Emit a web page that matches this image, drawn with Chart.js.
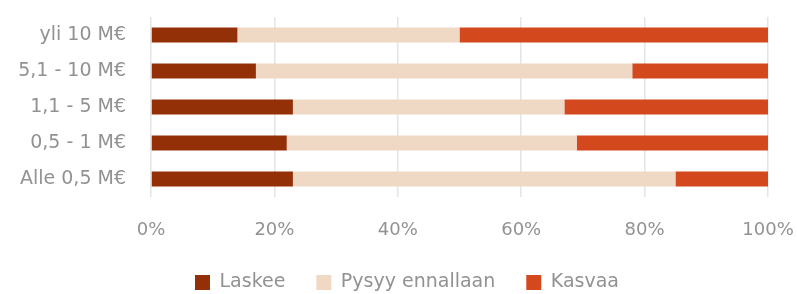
<!DOCTYPE html>
<html lang="fi">
<head>
<meta charset="utf-8">
<script src="https://cdn.jsdelivr.net/npm/chart.js@4/dist/chart.umd.min.js"></script>
<style>
  html, body { margin: 0; padding: 0; background: #fff; }
  .wrap { width: 797px; height: 294px; position: relative; }
</style>
</head>
<body>
<div class="wrap"><canvas id="chartRevenue"></canvas></div>
<script>
  var categories = ["yli 10 M€", "5,1 - 10 M€", "1,1 - 5 M€", "0,5 - 1 M€", "Alle 0,5 M€"];
  var laskee = [14, 17, 23, 22, 23];
  var pysyy = [36, 61, 44, 47, 62];
  var kasvaa = [50, 22, 33.5, 31, 15];
  var tickLabels = ["0%", "20%", "40%", "60%", "80%", "100%"];

  (function () {
    "use strict";

    var colors = {
      laskee: "#933008",
      pysyy: "#EFD9C5",
      kasvaa: "#D3481D",
      text: "#929292",
      grid: "#e4e4e4",
    };
    var family = "'DejaVu Sans', sans-serif";

    function bar(label, data, color) {
      return {
        label: label,
        data: data,
        backgroundColor: color,
        borderWidth: 0,
        barPercentage: 0.417,
        categoryPercentage: 1,
      };
    }

    new Chart(document.getElementById("chartRevenue"), {
      type: "bar",
      data: {
        labels: categories,
        datasets: [
          bar("Laskee", laskee, colors.laskee),
          bar("Pysyy ennallaan", pysyy, colors.pysyy),
          bar("Kasvaa", kasvaa, colors.kasvaa),
        ],
      },
      options: {
        indexAxis: "y",
        responsive: true,
        maintainAspectRatio: false,
        animation: false,
        // bottom is negative so the legend row sits low like the original
        layout: { padding: { top: 17, right: 0, left: 17, bottom: -8 } },
        plugins: {
          tooltip: { enabled: false },
          legend: {
            position: "bottom",
            labels: {
              color: colors.text,
              font: { family: family, size: 19 },
              boxWidth: 15,
              boxHeight: 15,
              padding: 31,
            },
          },
        },
        scales: {
          x: {
            stacked: true,
            min: 0,
            max: 100,
            grid: { color: colors.grid, drawTicks: false, lineWidth: 1.5 },
            border: { display: false },
            ticks: {
              stepSize: 20,
              color: colors.text,
              font: { family: family, size: 18 },
              padding: 23,
              callback: function (v, i) { return tickLabels[i]; },
            },
            afterFit: function (s) {
              s.paddingLeft = 0;
              s.paddingRight = 29;
              s.height = 45;
            },
          },
          y: {
            stacked: true,
            grid: {
              display: true,
              color: "transparent",
              drawTicks: true,
              tickLength: 25,
              tickColor: "transparent",
            },
            border: { display: false },
            ticks: { color: colors.text, font: { family: family, size: 19 }, padding: 0 },
            afterFit: function (s) { s.width = 134; },
          },
        },
      },
    });
  })();
</script>
</body>
</html>
